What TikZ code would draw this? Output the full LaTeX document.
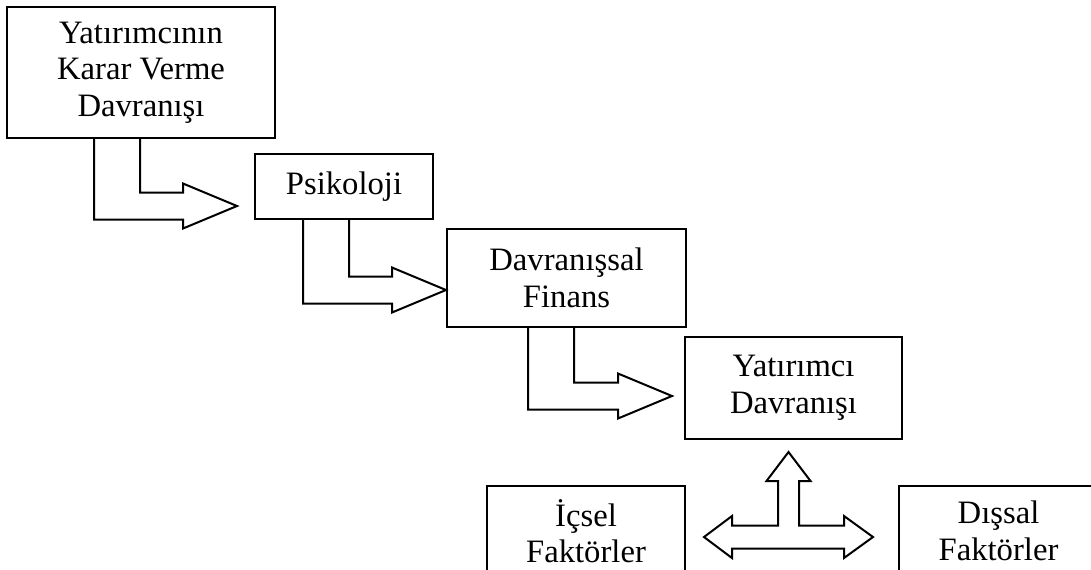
\documentclass[tikz,border=0pt]{standalone}
\usepackage{fontspec}
\setmainfont{Liberation Serif}
\usetikzlibrary{calc}

% Bent block arrow from a start point on the source box to a tip point.
% #1: outer corner on the source edge, #2: tip of the head
\newcommand\bentarrow[2]{%
  \draw[blockarrow] (#1) |- ($(#2)+(-54,13.5)$) -- ++(0,9) -- (#2)
    -- ($(#2)+(-54,-22.5)$) -- ++(0,9) -| ($(#1)+(46,0)$);}

\tikzset{
  box/.style={draw, line width=1.5pt, align=center, inner sep=0pt,
    font=\fontsize{24.5}{27.5}\selectfont},
  blockarrow/.style={draw, line width=1.5pt, line join=miter, fill=white}
}

\begin{document}
\begin{tikzpicture}[x=0.75pt, y=-0.75pt]
\useasboundingbox (0,0) rectangle (1091,569);
\clip (0,0) rectangle (1091,569);

% boxes of the chain
\node[box, minimum width=201pt, minimum height=98.25pt] (b1) at (141,72.5)
  {Yatırımcının\\Karar Verme\\Davranışı};
\node[box, minimum width=133.5pt, minimum height=48.75pt] (b2) at (344,186.5)
  {Psikoloji};
\node[box, minimum width=179.25pt, minimum height=73.5pt] (b3) at (566.5,278)
  {Davranışsal\\Finans};
\node[box, minimum width=162.75pt, minimum height=76.5pt] (b4) at (793.5,388)
  {Yatırımcı\\Davranışı};
\node[box, minimum width=148.5pt, minimum height=67.5pt] (b5) at (586,531)
  {İçsel\\Faktörler};
\node[box, minimum width=149.25pt, minimum height=67.5pt] (b6) at (998.5,531)
  {Dışsal\\Faktörler};

% start and tip points of the bent arrows
\coordinate (s1) at ($(b1.south west)+(88,0)$);
\coordinate (t1) at ($(b2.west)+(-17,19.5)$);
\coordinate (s2) at ($(b2.south west)+(49,0)$);
\coordinate (t2) at ($(b3.west)+(0,12)$);
\coordinate (s3) at ($(b3.south west)+(82,0)$);
\coordinate (t3) at ($(b4.west)+(-12,8)$);

\bentarrow{s1}{t1}
\bentarrow{s2}{t2}
\bentarrow{s3}{t3}

% three-headed arrow between the factors and investor behaviour
\coordinate (hub) at ($(b4.south |- b5.east)+(-5,6)$);
\draw[blockarrow] ($(hub)+(0,-85)$) -- ++(22,29) -- ++(-11.5,0) -- ++(0,44.5)
  -- ++(45,0) -- ++(0,-9.5) -- ++(29,21) -- ++(-29,21) -- ++(0,-9.5)
  -- ++(-112,0) -- ++(0,9.5) -- ++(-28,-21) -- ++(28,-21) -- ++(0,9.5)
  -- ++(46,0) -- ++(0,-44.5) -- ++(-11.5,0) -- cycle;
\end{tikzpicture}
\end{document}
